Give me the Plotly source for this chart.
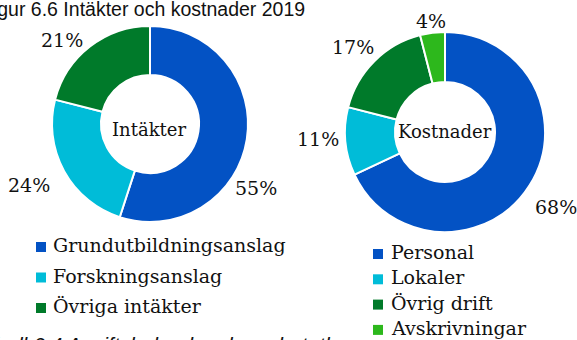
import plotly.graph_objects as go

W, H = 577, 340

# Income and cost shares (percent)
income_labels = ["Grundutbildningsanslag", "Forskningsanslag", "Övriga intäkter"]
income_values = [55, 24, 21]
cost_labels = ["Personal", "Lokaler", "Övrig drift", "Avskrivningar"]
cost_values = [68, 11, 17, 4]

income_colors = ["#0352C4", "#00BCD8", "#007A2A"]
cost_colors = ["#0352C4", "#00BCD8", "#007A2A", "#2DB81C"]

SERIF = "DejaVu Serif"
SANS = "Liberation Sans"


def px(x):
    return x / W


def py(y):
    return 1 - y / H


def donut(labels, values, colors, box):
    x0, y0, x1, y1 = box
    return go.Pie(
        labels=labels,
        values=values,
        sort=False,
        direction="clockwise",
        rotation=0,
        hole=0.5,
        textinfo="none",
        hoverinfo="label+percent",
        showlegend=False,
        marker=dict(colors=colors, line=dict(color="white", width=2)),
        domain=dict(x=[px(x0), px(x1)], y=[py(y1), py(y0)]),
    )


fig = go.Figure()
fig.add_trace(donut(income_labels, income_values, income_colors, (52, 26, 248, 222)))
fig.add_trace(donut(cost_labels, cost_values, cost_colors, (345, 32, 545, 232)))

annotations = []
shapes = []


def label(text, x, y, size=19, family=SERIF, xanchor="center", italic=False):
    annotations.append(dict(
        text=f"<i>{text}</i>" if italic else text,
        x=px(x), y=py(y), xref="paper", yref="paper",
        xanchor=xanchor, yanchor="middle", showarrow=False,
        font=dict(family=family, size=size, color="#111111"),
    ))


# Percentage labels beside each ring
income_pos = [(256, 188), (29, 185), (62, 40)]
cost_pos = [(556, 207), (318, 139), (353, 47), (431, 21)]
for v, (x, y) in zip(income_values, income_pos):
    label(f"{v}%", x, y)
for v, (x, y) in zip(cost_values, cost_pos):
    label(f"{v}%", x, y)

# Ring titles
label("Intäkter", 149, 129, size=18)
label("Kostnader", 445, 131, size=18)


def legend(labels, colors, x_sq, x_txt, y0, step):
    for i, (lab, col) in enumerate(zip(labels, colors)):
        yc = y0 + i * step
        shapes.append(dict(
            type="rect", xref="paper", yref="paper",
            x0=px(x_sq), x1=px(x_sq + 10), y0=py(yc + 5), y1=py(yc - 5),
            fillcolor=col, line=dict(width=0),
        ))
        label(lab, x_txt, yc - 2, xanchor="left")


legend(income_labels, income_colors, 36, 51, 247, 30.5)
legend(cost_labels, cost_colors, 373, 389, 254, 25.3)

# Surrounding document text
label("Figur 6.6 Intäkter och kostnader 2019", -21, 9, size=19.5, family=SANS, xanchor="left")
label("Tabell 6.4 Avgiftsbelagd verksamhet, tkr", -30, 344, size=21, family=SANS,
      xanchor="left", italic=True)

fig.update_layout(
    width=W, height=H,
    margin=dict(l=0, r=0, t=0, b=0),
    paper_bgcolor="white",
    plot_bgcolor="white",
    annotations=annotations,
    shapes=shapes,
)

fig.write_html("out.html")
